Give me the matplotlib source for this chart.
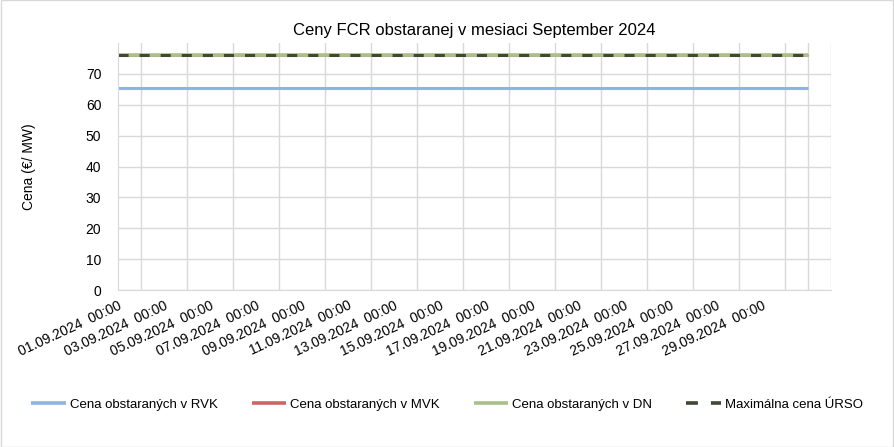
import matplotlib
matplotlib.use("Agg")
import matplotlib.pyplot as plt
import numpy as np

# daily points, day index 0 = 01.09.2024 00:00 ... 30 = 01.10.2024 00:00
days = list(range(31))
rvk = [65.3] * 31
mvk = [76.0] * 31
dn = [76.0] * 31
max_urso = [76.0] * 31

tick_days = list(range(0, 29, 2))
tick_labels = ["%02d.09.2024  00:00" % (d + 1) for d in tick_days]

plt.rcParams["font.family"] = ["Liberation Sans", "DejaVu Sans"]

fig = plt.figure(figsize=(8.94, 4.47), dpi=100)
ax = fig.add_axes([0.132, 0.351, 0.7975, 0.553])

ax.plot(days, rvk, color="#8EB4E3", lw=2.2, label="Cena obstaraných v RVK", solid_capstyle="butt")
ax.plot(days, mvk, color="#D06464", lw=1.8, label="Cena obstaraných v MVK", solid_capstyle="butt")
ax.plot(days, dn, color="#A9C08A", lw=2.6, label="Cena obstaraných v DN", solid_capstyle="butt")
ax.plot(days, max_urso, color="#3E4834", lw=2.2, dashes=(3.3, 3.6), label="Maximálna cena ÚRSO")

ax.set_xlim(0, 31)
ax.set_ylim(0, 80)
ax.set_yticks(range(0, 80, 10))
ax.set_xticks(range(0, 32), minor=True)
ax.set_xticks(tick_days)
ax.set_xticklabels(tick_labels, rotation=25, ha="right", rotation_mode="anchor", fontsize=10)
ax.tick_params(axis="both", which="both", length=0, labelsize=10)
ax.tick_params(axis="y", pad=12)
ax.tick_params(axis="x", pad=6)
ax.grid(True, which="minor", axis="x", color="#D9D9D9", lw=1)
ax.grid(True, which="major", axis="y", color="#D9D9D9", lw=1)
ax.set_axisbelow(True)
for s in ["top", "right"]:
    ax.spines[s].set_visible(False)
for s in ["left", "bottom"]:
    ax.spines[s].set_color("#D9D9D9")

ax.set_ylabel("Cena (€/ MW)", fontsize=10, labelpad=36)
ax.set_title("Ceny FCR obstaranej v mesiaci September 2024", fontsize=12, pad=6)

leg = fig.legend(loc="lower center", bbox_to_anchor=(0.5, 0.055), ncol=4, frameon=False,
                 fontsize=9.5, handlelength=2.6, columnspacing=2.6, handletextpad=0.3)
for line in leg.get_lines():
    line.set_linewidth(2.6)

fig.patches.append(plt.Rectangle((0.001, 0.001), 0.998, 0.998, transform=fig.transFigure,
                                 fill=False, edgecolor="#D9D9D9", lw=1))

fig.savefig("out.png", dpi=100)
